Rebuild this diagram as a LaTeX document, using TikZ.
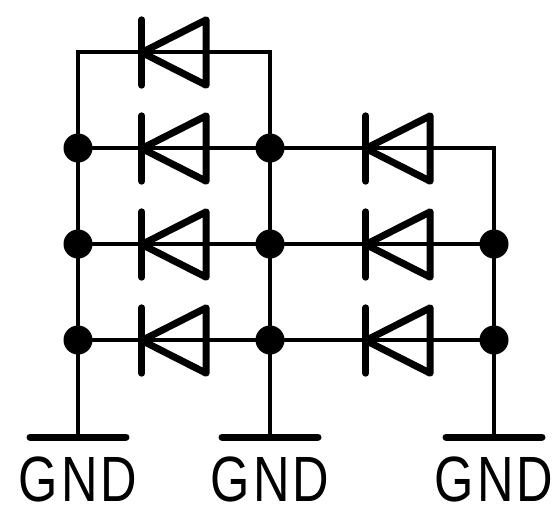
\documentclass[tikz,border=0pt]{standalone}
\usepackage{fontspec}
\setmainfont{Liberation Sans}
\newfontfamily\gndfont[LetterSpace=6]{Liberation Sans}
\tikzset{
  wire/.style={line width=3.6pt,line cap=rect,line join=miter},
  dot/.style={circle,fill=black,inner sep=0pt,minimum size=29pt},
  diode/.style={inner sep=0pt,minimum width=64pt,minimum height=65pt},
  diodeline/.style={line width=7pt,line cap=round,line join=round},
  gndbar/.style={line width=7pt,line cap=round},
  gndtext/.style={inner sep=0pt,anchor=base,xscale=.79,font=\gndfont\fontsize{64}{64}\selectfont}
}
\begin{document}
\begin{tikzpicture}[x=1pt,y=-1pt]
\useasboundingbox (0,0) rectangle (557,507);
% junctions
\node[dot] (a2) at (78,148) {};
\node[dot] (a3) at (78,244) {};
\node[dot] (a4) at (78,340) {};
\node[dot] (b2) at (270,148) {};
\node[dot] (b3) at (270,244) {};
\node[dot] (b4) at (270,340) {};
\node[dot] (c3) at (494,244) {};
\node[dot] (c4) at (494,340) {};
\coordinate (a1) at (78,52);
\coordinate (b1) at (270,52);
\coordinate (c2) at (494,148);
% diodes
\node[diode] (d1) at (174,52.5) {};
\node[diode] (d2) at (174,148.5) {};
\node[diode] (d3) at (174,244.5) {};
\node[diode] (d4) at (174,340.5) {};
\node[diode] (e2) at (398,148.5) {};
\node[diode] (e3) at (398,244.5) {};
\node[diode] (e4) at (398,340.5) {};
% ground
\coordinate (g1) at (78,437);
\coordinate (g2) at (270,437);
\coordinate (g3) at (494,437);
\coordinate (g1l) at (30,437);
\coordinate (g1r) at (126,437);
\coordinate (g2l) at (222,437);
\coordinate (g2r) at (318,437);
\coordinate (g3l) at (446,437);
\coordinate (g3r) at (542,437);
\node[gndtext] (t1) at (78,501) {GND};
\node[gndtext] (t2) at (270,501) {GND};
\node[gndtext] (t3) at (494,501) {GND};
% wires
\draw[wire] (g1) -- (a4.center) -- (a3.center) -- (a2.center) -- (a1) -- (b1) -- (b2.center) -- (b3.center) -- (b4.center) -- (g2);
\draw[wire] (a2.center) -- (b2.center) -- (c2) -- (c3.center) -- (c4.center) -- (g3);
\draw[wire] (a3.center) -- (b3.center) -- (c3.center);
\draw[wire] (a4.center) -- (b4.center) -- (c4.center);
% diode symbols
\foreach \d in {d1,d2,d3,d4,e2,e3,e4}{
  \draw[diodeline] (\d.north west) -- (\d.south west);
  \draw[diodeline] (\d.west) -- (\d.north east) -- (\d.south east) -- cycle;
}
% ground bars
\draw[gndbar] (g1l) -- (g1r);
\draw[gndbar] (g2l) -- (g2r);
\draw[gndbar] (g3l) -- (g3r);
\end{tikzpicture}
\end{document}
